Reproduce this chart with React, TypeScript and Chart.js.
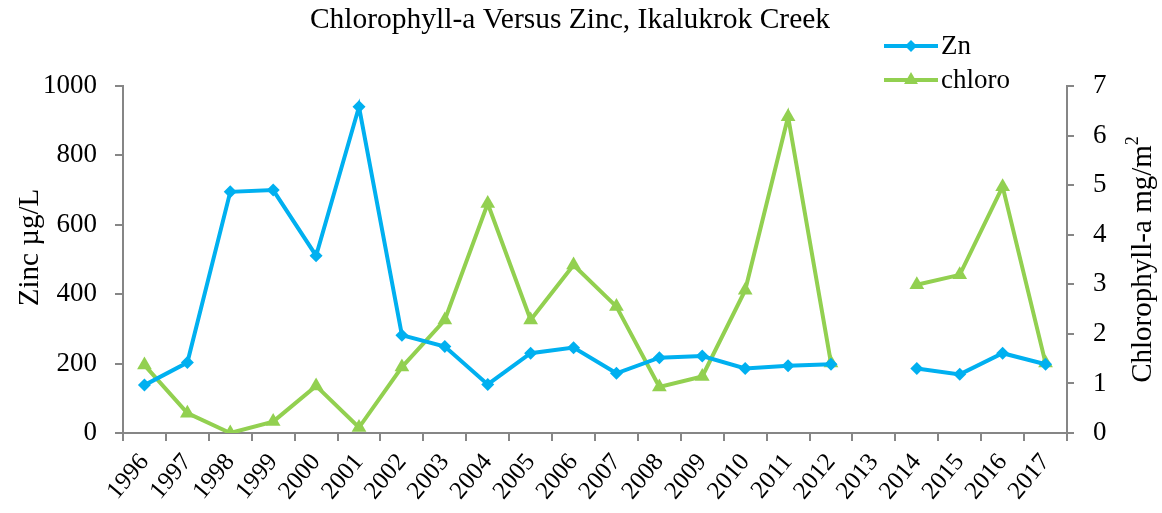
import React, { useEffect, useRef } from 'react';
import { Chart, registerables } from 'chart.js';

Chart.register(...registerables);

const years = ['1996', '1997', '1998', '1999', '2000', '2001', '2002', '2003', '2004', '2005', '2006', '2007', '2008', '2009', '2010', '2011', '2012', '2013', '2014', '2015', '2016', '2017'];
const zinc = [138, 203, 695, 700, 511, 940, 282, 249, 140, 230, 246, 172, 217, 222, 186, 194, 198, null, 186, 169, 230, 198];
const chloro = [1.37, 0.4, 0, 0.23, 0.95, 0.11, 1.33, 2.28, 4.63, 2.28, 3.39, 2.55, 0.93, 1.14, 2.88, 6.38, 1.41, null, 2.99, 3.19, 4.97, 1.41];

const zincMax = 1000;
const zincStep = 200;
const chloroMax = 7;
const chloroStep = 1;

const TITLE = 'Chlorophyll-a Versus Zinc, Ikalukrok Creek';
const LEFT_TITLE = 'Zinc µg/L';
const RIGHT_TITLE = 'Chlorophyll-a mg/m';
const RIGHT_TITLE_SUP = '2';

const FONT = "'Liberation Serif', 'Times New Roman', serif";
const BLUE = '#00B0F0';
const GREEN = '#92D050';
const AXIS = '#868686';

function drawMarker(ctx: CanvasRenderingContext2D, kind: string, x: number, y: number, r: number, color: string) {
  ctx.save();
  ctx.fillStyle = color;
  ctx.beginPath();
  if (kind === 'diamond') {
    ctx.moveTo(x, y - r);
    ctx.lineTo(x + r, y);
    ctx.lineTo(x, y + r);
    ctx.lineTo(x - r, y);
  } else {
    ctx.moveTo(x, y - r);
    ctx.lineTo(x + r * 0.866, y + r * 0.5);
    ctx.lineTo(x - r * 0.866, y + r * 0.5);
  }
  ctx.closePath();
  ctx.fill();
  ctx.restore();
}

const extrasPlugin = {
  id: 'extras',
  afterDraw(chart: any) {
    const ctx: CanvasRenderingContext2D = chart.ctx;
    const area = chart.chartArea;
    const midY = (area.top + area.bottom) / 2;

    // Chart title
    ctx.save();
    ctx.fillStyle = '#000';
    ctx.font = `29.5px ${FONT}`;
    ctx.textAlign = 'center';
    ctx.textBaseline = 'alphabetic';
    ctx.fillText(TITLE, (area.left + area.right) / 2 - 25, area.top - 58);
    ctx.restore();

    // Left axis title (bottom-to-top)
    ctx.save();
    ctx.translate(area.left - 93, midY - 12);
    ctx.rotate(-Math.PI / 2);
    ctx.fillStyle = '#000';
    ctx.font = `29px ${FONT}`;
    ctx.textAlign = 'center';
    ctx.textBaseline = 'middle';
    ctx.fillText(LEFT_TITLE, 0, 0);
    ctx.restore();

    // Right axis title, reading bottom-to-top with superscript
    ctx.save();
    ctx.translate(area.right + 76, midY);
    ctx.rotate(-Math.PI / 2);
    ctx.fillStyle = '#000';
    ctx.textBaseline = 'middle';
    ctx.textAlign = 'left';
    const mainFont = `29px ${FONT}`;
    const supFont = `18px ${FONT}`;
    ctx.font = mainFont;
    const w1 = ctx.measureText(RIGHT_TITLE).width;
    ctx.font = supFont;
    const w2 = ctx.measureText(RIGHT_TITLE_SUP).width;
    const start = -(w1 + w2) / 2;
    ctx.font = mainFont;
    ctx.fillText(RIGHT_TITLE, start, 0);
    ctx.font = supFont;
    ctx.fillText(RIGHT_TITLE_SUP, start + w1, -10);
    ctx.restore();

    // Legend
    const items = [
      { label: chart.data.datasets[0].label, color: BLUE, kind: 'diamond', r: 6 },
      { label: chart.data.datasets[1].label, color: GREEN, kind: 'triangle', r: 8 },
    ];
    const lx0 = area.right - 183;
    const lx1 = area.right - 129;
    const y0 = area.top - 40;
    const dy = 34;
    items.forEach((it, i) => {
      const y = y0 + i * dy;
      ctx.save();
      ctx.strokeStyle = it.color;
      ctx.lineWidth = 4;
      ctx.beginPath();
      ctx.moveTo(lx0, y);
      ctx.lineTo(lx1, y);
      ctx.stroke();
      ctx.restore();
      drawMarker(ctx, it.kind, (lx0 + lx1) / 2, y, it.r, it.color);
      ctx.save();
      ctx.fillStyle = '#000';
      ctx.font = `27px ${FONT}`;
      ctx.textBaseline = 'middle';
      ctx.textAlign = 'left';
      ctx.fillText(it.label, lx1 + 3, y + 1);
      ctx.restore();
    });
  },
};

export default function App() {
  const ref = useRef<HTMLCanvasElement | null>(null);
  useEffect(() => {
    if (!ref.current) return;
    const chart = new Chart(ref.current, {
      type: 'line',
      data: {
        labels: years,
        datasets: [
          {
            label: 'Zn',
            data: zinc,
            yAxisID: 'y',
            borderColor: BLUE,
            backgroundColor: BLUE,
            borderWidth: 4,
            pointStyle: 'rectRot',
            pointRadius: 6.5,
            pointHoverRadius: 6.5,
            pointBorderWidth: 0,
            spanGaps: false,
            tension: 0,
          },
          {
            label: 'chloro',
            data: chloro,
            yAxisID: 'y1',
            borderColor: GREEN,
            backgroundColor: GREEN,
            borderWidth: 4,
            pointStyle: 'triangle',
            pointRadius: 8.5,
            pointHoverRadius: 8.5,
            pointBorderWidth: 0,
            spanGaps: false,
            tension: 0,
          },
        ],
      },
      options: {
        animation: false,
        responsive: true,
        maintainAspectRatio: false,
        layout: { padding: { top: 86, left: 0, right: 0, bottom: 0 } },
        plugins: {
          legend: { display: false },
          tooltip: { enabled: false },
          title: { display: false },
        },
        scales: {
          x: {
            offset: true,
            grid: { display: true, offset: true, drawOnChartArea: false, drawTicks: true, tickLength: 8, color: AXIS, lineWidth: 2 },
            border: { display: true, color: AXIS, width: 2 },
            ticks: {
              color: '#000',
              font: { family: FONT, size: 25 },
              minRotation: 50,
              maxRotation: 50,
              autoSkip: false,
              padding: 7,
              labelOffset: 0,
            },
            afterFit: (s: any) => { s.height = 80; },
          },
          y: {
            position: 'left',
            min: 0,
            max: zincMax,
            grid: { display: true, drawOnChartArea: false, drawTicks: true, tickLength: 8, color: AXIS, lineWidth: 2 },
            border: { display: true, color: AXIS, width: 2 },
            ticks: {
              stepSize: zincStep,
              color: '#000',
              font: { family: FONT, size: 27 },
              padding: 18,
              callback: (v: any) => String(v),
            },
            afterFit: (s: any) => { s.width = 123; },
          },
          y1: {
            position: 'right',
            min: 0,
            max: chloroMax,
            grid: { display: true, drawOnChartArea: false, drawTicks: true, tickLength: 7, color: AXIS, lineWidth: 2 },
            border: { display: true, color: AXIS, width: 2 },
            ticks: {
              stepSize: chloroStep,
              color: '#000',
              font: { family: FONT, size: 27 },
              padding: 19,
              callback: (v: any) => String(v),
            },
            afterFit: (s: any) => { s.width = 95; },
          },
        },
      },
      plugins: [extrasPlugin],
    });
    return () => chart.destroy();
  }, []);
  return (
    <div style={{ position: 'fixed', left: 0, top: 0, width: '1162px', height: '513px', background: '#fff' }}>
      <canvas ref={ref} />
    </div>
  );
}
